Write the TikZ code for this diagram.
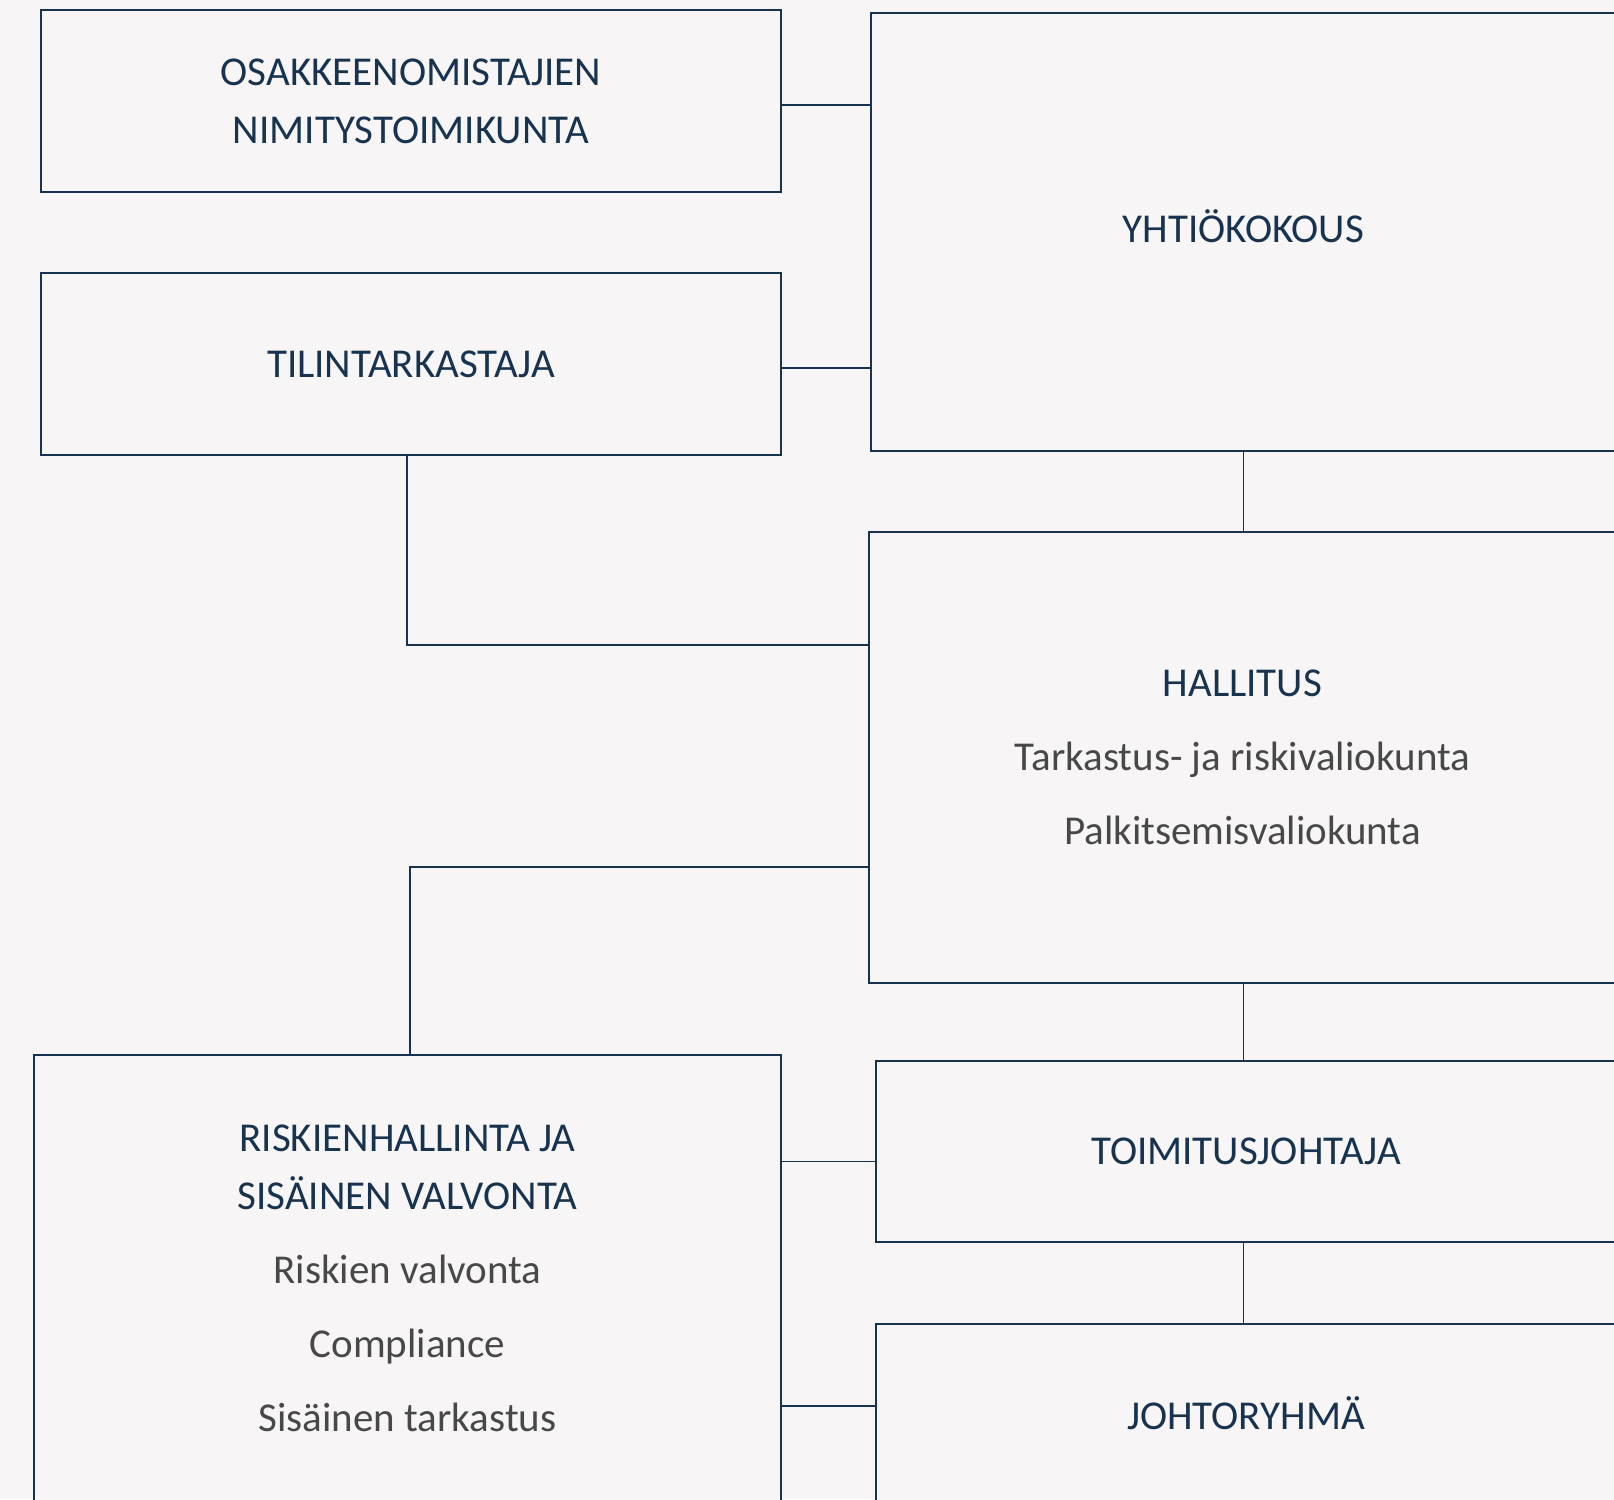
\documentclass[tikz,border=0pt]{standalone}
\usepackage{fontspec}
\setmainfont{Carlito}
\usetikzlibrary{calc}

\definecolor{navy}{RGB}{23,51,79}
\definecolor{greytext}{RGB}{72,72,72}
\definecolor{paper}{RGB}{247,245,245}

\tikzset{every picture/.style={line width=1.8pt}}
\tikzset{
  orgbox/.style={draw=navy, fill=paper, rectangle, inner sep=0pt, align=center,
    text=navy, font=\fontsize{41}{58}\selectfont},
  link/.style={draw=navy}
}
\newcommand{\subrow}[1]{\textcolor{greytext}{#1}}

\begin{document}
\begin{tikzpicture}[x=1pt,y=1pt,yscale=-1]
%set diagram: 1614 x 1499, origin top left
\fill[paper] (0,0) rectangle (1614,1499);
\useasboundingbox (0,0) rectangle (1614,1499);
\clip (0,0) rectangle (1614,1499);

%Shape: Rectangle [left column]
\node[orgbox, minimum width=740pt, minimum height=182pt] (osak) at (411,101)
  {OSAKKEENOMISTAJIEN\\NIMITYSTOIMIKUNTA};
\node[orgbox, minimum width=740pt, minimum height=182pt] (tilin) at (411,364)
  {TILINTARKASTAJA};
\node[orgbox, minimum width=747pt, minimum height=447pt] (risk) at (407.5,1278.5)
  {RISKIENHALLINTA JA\\SIS\"AINEN VALVONTA\\[16pt]
   \subrow{Riskien valvonta}\\[16pt]\subrow{Compliance}\\[16pt]\subrow{Sis\"ainen tarkastus}};

%Shape: Rectangle [right column]
\node[orgbox, minimum width=745pt, minimum height=438pt] (yhtio) at (1243.5,232)
  {YHTI\"OKOKOUS\\[-46pt]};
\node[orgbox, minimum width=747pt, minimum height=451pt] (hall) at (1242.5,757.5)
  {HALLITUS\\[16pt]\subrow{Tarkastus- ja riskivaliokunta}\\[16pt]\subrow{Palkitsemisvaliokunta}};
\node[orgbox, minimum width=740pt, minimum height=181pt] (toim) at (1246,1151.5)
  {TOIMITUSJOHTAJA};
\node[orgbox, minimum width=740pt, minimum height=178pt] (johto) at (1246,1413)
  {JOHTORYHM\"A};

%Straight Lines
\draw[link] ([yshift=4pt]osak.east) -- ([yshift=4pt]osak.east -| yhtio.west);
\draw[link] ([yshift=4pt]tilin.east) -- ([yshift=4pt]tilin.east -| yhtio.west);
\draw[link] ([xshift=-4pt]tilin.south) |- ([yshift=114pt]hall.north west);
\draw[link] ([yshift=-117pt]hall.south west) -| ([xshift=2.5pt]risk.north);
\draw[link] (yhtio.south) -- (yhtio.south |- hall.north);
\draw[link] (yhtio.south |- hall.south) -- (yhtio.south |- toim.north);
\draw[link] (yhtio.south |- toim.south) -- (yhtio.south |- johto.north);
\draw[link] ([yshift=10pt]toim.west) -- ([yshift=10pt]toim.west -| risk.east);
\draw[link] ([yshift=-7pt]johto.west) -- ([yshift=-7pt]johto.west -| risk.east);

\end{tikzpicture}
\end{document}
